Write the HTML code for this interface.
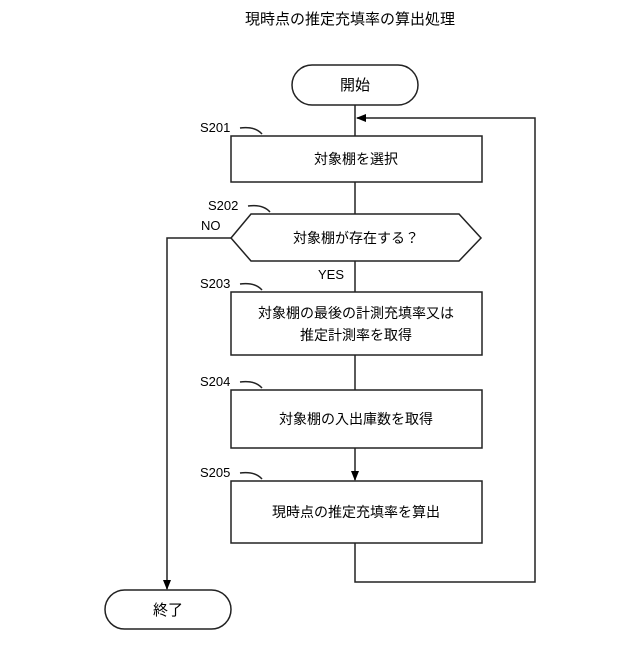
<!DOCTYPE html>
<html><head><meta charset="utf-8"><style>
html,body{margin:0;padding:0;background:#fff;}
svg text{font-family:"Liberation Sans","Noto Sans CJK JP",sans-serif;fill:#000;}
</style></head><body>
<svg width="640" height="640" viewBox="0 0 640 640" xmlns="http://www.w3.org/2000/svg">
<defs><marker id="a" markerWidth="10" markerHeight="10" refX="9" refY="5" orient="auto" markerUnits="userSpaceOnUse"><path d="M0,1 L10,5 L0,9 z" fill="#000"/></marker></defs>
<g fill="none" stroke="#222" stroke-width="1.5">
<text x="350" y="24" text-anchor="middle" font-size="15" stroke="none">現時点の推定充填率の算出処理</text>
<rect x="292" y="65" width="126" height="40" rx="20"/>
<rect x="105" y="590" width="126" height="39" rx="19.5"/>
<rect x="231" y="136" width="251" height="46"/>
<polygon points="231,238 251,214 459,214 481,238 459,261 251,261"/>
<rect x="231" y="292" width="251" height="63"/>
<rect x="231" y="390" width="251" height="58"/>
<rect x="231" y="481" width="251" height="62"/>
<line x1="355" y1="105" x2="355" y2="136"/>
<line x1="355" y1="182" x2="355" y2="214"/>
<line x1="355" y1="261" x2="355" y2="292"/>
<line x1="355" y1="355" x2="355" y2="390"/>
<line x1="355" y1="448" x2="355" y2="480" marker-end="url(#a)"/>
<polyline points="355,543 355,582 535,582 535,118 357,118" marker-end="url(#a)"/>
<polyline points="231,238 167,238 167,589" marker-end="url(#a)"/>
<path d="M240,128 Q255,126 262,134"/>
<path d="M248,206 Q263,204 270,212"/>
<path d="M240,284 Q255,282 262,290"/>
<path d="M240,382 Q255,380 262,388"/>
<path d="M240,473 Q255,471 262,479"/>
</g>
<g font-size="14">
<text x="355" y="90" text-anchor="middle" font-size="15">開始</text>
<text x="168" y="615" text-anchor="middle" font-size="15">終了</text>
<text x="356" y="164" text-anchor="middle">対象棚を選択</text>
<text x="356" y="243" text-anchor="middle">対象棚が存在する？</text>
<text x="356" y="318" text-anchor="middle">対象棚の最後の計測充填率又は</text>
<text x="356" y="340" text-anchor="middle">推定計測率を取得</text>
<text x="356" y="424" text-anchor="middle">対象棚の入出庫数を取得</text>
<text x="356" y="517" text-anchor="middle">現時点の推定充填率を算出</text>
</g>
<g font-size="13">
<text x="200" y="132">S201</text>
<text x="208" y="210">S202</text>
<text x="201" y="230">NO</text>
<text x="318" y="279">YES</text>
<text x="200" y="288">S203</text>
<text x="200" y="386">S204</text>
<text x="200" y="477">S205</text>
</g>
</svg>
</body></html>
